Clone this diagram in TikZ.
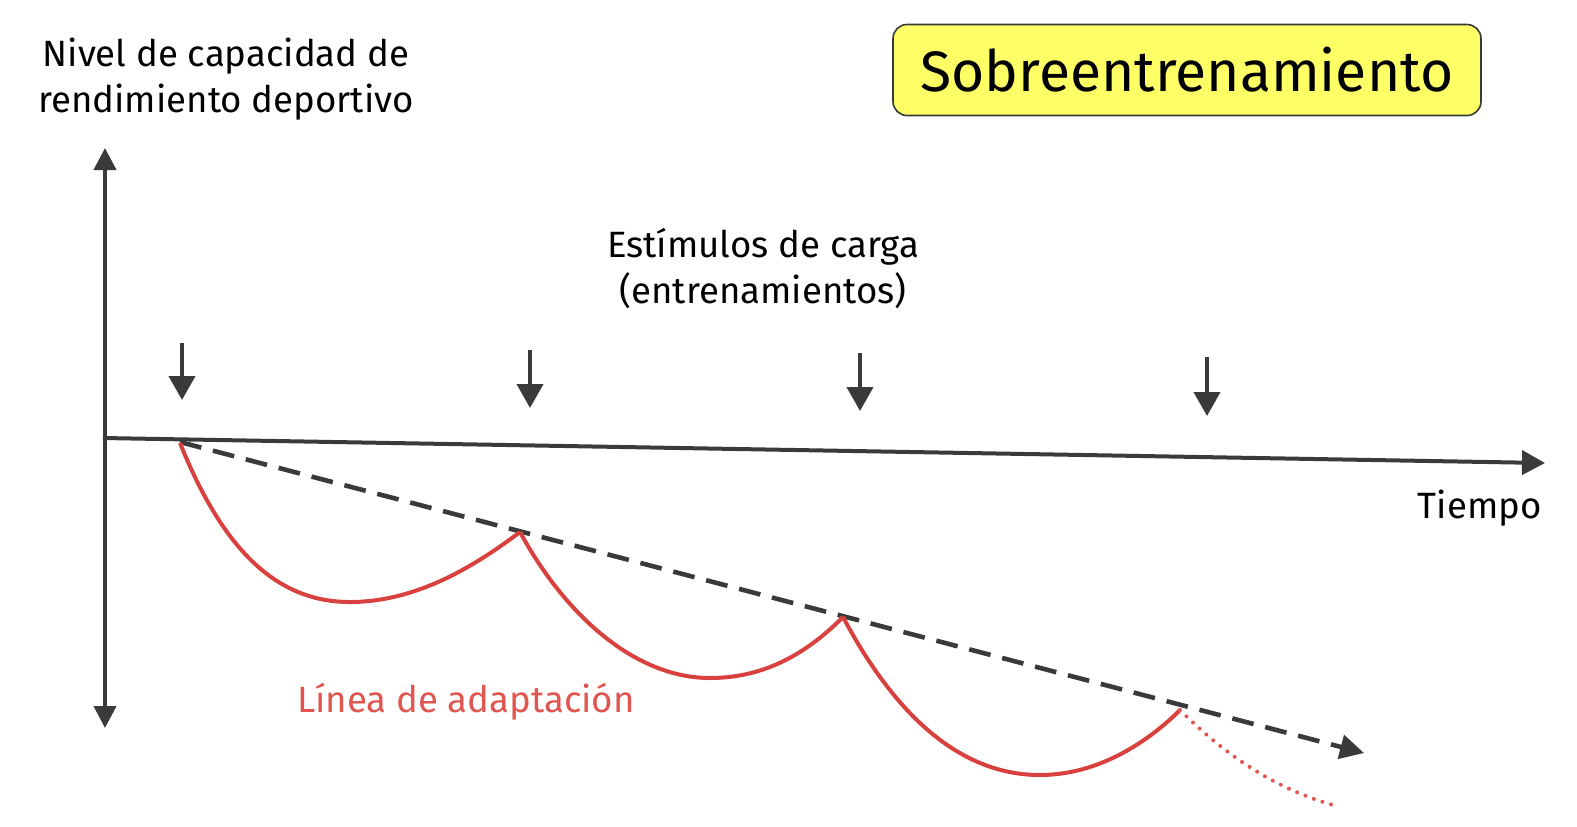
\documentclass[tikz,border=0pt]{standalone}
\usepackage{fontspec}
\setmainfont{Fira Sans}
\usepackage{xcolor}
\usetikzlibrary{arrows.meta, positioning}
\definecolor{axisgrey}{HTML}{3A3A3A}
\definecolor{curvered}{HTML}{D9413F}
\definecolor{labelred}{HTML}{E0554F}
\definecolor{boxyellow}{HTML}{FFFF66}

\begin{document}
\begin{tikzpicture}[x=0.5pt, y=-0.5pt,
    labeltext/.style={font=\fontsize{18.3}{23}\selectfont, align=center, text=black},
    axisline/.style={axisgrey, line width=2pt, -{Triangle[length=11.5pt, width=12pt]}},
    loadarrow/.style={axisgrey, line width=2pt, -{Triangle[length=12pt, width=13pt]}},
    adaptline/.style={curvered, line width=2pt}]
    \useasboundingbox (0,0) rectangle (1577,826);

    % Axes
    \coordinate (origin) at (103,438);
    \coordinate (ytop) at (105,148);
    \coordinate (ybottom) at (105,728);
    \coordinate (xend) at (1545,463);
    \draw[axisline, {Triangle[length=11pt, width=11pt]}-{Triangle[length=11pt, width=11pt]}] (ybottom) -- (ytop);
    \draw[axisline] (origin) -- (xend);

    % Axis labels
    \node[labeltext] (ylabel) at (226,79) {Nivel de capacidad de\\rendimiento deportivo};
    \node[labeltext, anchor=east, inner sep=0pt] (tiempo) at (1542,508) {Tiempo};

    % Title box
    \node[draw=axisgrey, fill=boxyellow, rounded corners=7pt, line width=0.8pt,
          minimum width=294pt, minimum height=45.5pt,
          font=\fontsize{28.5}{32}\selectfont] (title) at (1187,70) {Sobreentrenamiento};

    % Load stimuli
    \node[labeltext] (stimuli) at (763,268) {Estímulos de carga\\(entrenamientos)};
    \foreach \name/\x/\ya/\yb in {sa/182/343/400, sb/530/350/408, sc/860/353/411, sd/1207/357/416} {
        \coordinate (\name top) at (\x,\ya);
        \coordinate (\name tip) at (\x,\yb);
        \draw[loadarrow] (\name top) -- (\name tip);
    }

    % Trend line
    \coordinate (trendstart) at (180,442);
    \coordinate (trendend) at (1364,753);
    \draw[axisgrey, line width=2.3pt, dash pattern=on 11pt off 6pt,
          -{Triangle[length=12pt, width=12pt]}] (trendstart) -- (trendend);

    % Adaptation curve
    \coordinate (pa) at (180,443);
    \coordinate (pb) at (520,532);
    \coordinate (pc) at (843,617);
    \coordinate (pd) at (1180,710);
    \coordinate (pe) at (1333,805);
    \draw[adaptline] (pa) .. controls (225,555) and (280,602) .. (350,602)
        .. controls (420,602) and (480,562) .. (pb);
    \draw[adaptline] (pb) .. controls (565,615) and (635,678) .. (710,678)
        .. controls (770,678) and (812,648) .. (pc);
    \draw[adaptline] (pc) .. controls (895,715) and (960,775) .. (1040,775)
        .. controls (1100,775) and (1150,740) .. (pd);
    \draw[adaptline, labelred, line width=2pt, dash pattern=on 0pt off 4.5pt, line cap=round]
        (pd) .. controls (1230,760) and (1280,790) .. (pe);
    \node[labeltext, text=labelred] (adaptlabel) at (466,702) {Línea de adaptación};
\end{tikzpicture}
\end{document}
